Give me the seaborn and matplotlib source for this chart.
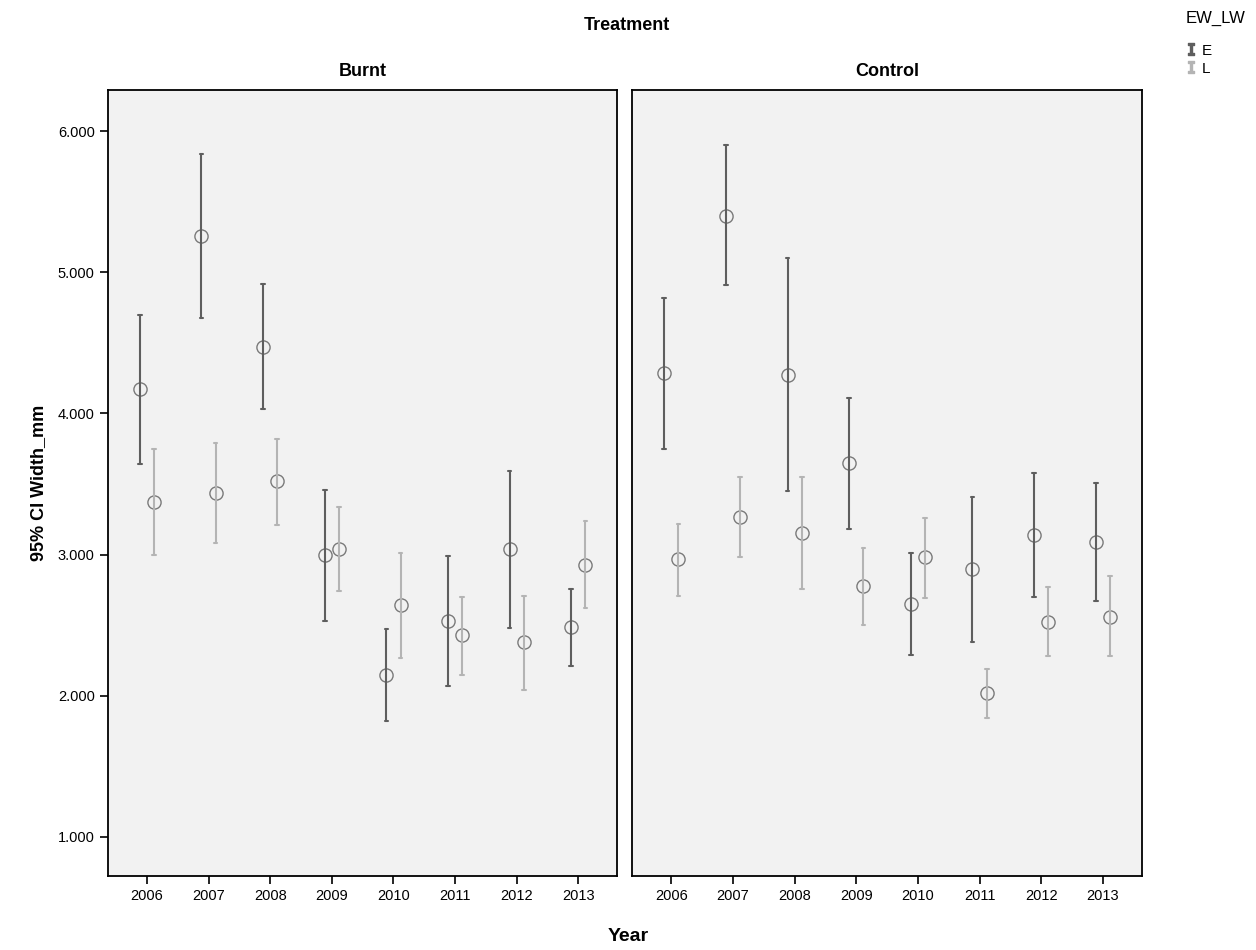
import numpy as np
import pandas as pd
import matplotlib
matplotlib.use("Agg")
import matplotlib.pyplot as plt
from matplotlib.lines import Line2D
from matplotlib.ticker import FormatStrFormatter
import seaborn as sns

years = ['2006', '2007', '2008', '2009', '2010', '2011', '2012', '2013']
treatments = ['Burnt', 'Control']
groups = ['E', 'L']

# mean width and 95% CI bounds
burnt_e_mean = [4.17, 5.26, 4.47, 3.00, 2.15, 2.53, 3.04, 2.49]
burnt_e_low = [3.64, 4.68, 4.03, 2.53, 1.82, 2.07, 2.48, 2.21]
burnt_e_high = [4.70, 5.84, 4.92, 3.46, 2.47, 2.99, 3.59, 2.76]
burnt_l_mean = [3.37, 3.44, 3.52, 3.04, 2.64, 2.43, 2.38, 2.93]
burnt_l_low = [3.00, 3.08, 3.21, 2.74, 2.27, 2.15, 2.04, 2.62]
burnt_l_high = [3.75, 3.79, 3.82, 3.34, 3.01, 2.70, 2.71, 3.24]

control_e_mean = [4.29, 5.40, 4.27, 3.65, 2.65, 2.90, 3.14, 3.09]
control_e_low = [3.75, 4.91, 3.45, 3.18, 2.29, 2.38, 2.70, 2.67]
control_e_high = [4.82, 5.90, 5.10, 4.11, 3.01, 3.41, 3.58, 3.51]
control_l_mean = [2.97, 3.27, 3.15, 2.78, 2.98, 2.02, 2.52, 2.56]
control_l_low = [2.71, 2.98, 2.76, 2.50, 2.69, 1.84, 2.28, 2.28]
control_l_high = [3.22, 3.55, 3.55, 3.05, 3.26, 2.19, 2.77, 2.85]

series = {
    ('Burnt', 'E'): (burnt_e_low, burnt_e_mean, burnt_e_high),
    ('Burnt', 'L'): (burnt_l_low, burnt_l_mean, burnt_l_high),
    ('Control', 'E'): (control_e_low, control_e_mean, control_e_high),
    ('Control', 'L'): (control_l_low, control_l_mean, control_l_high),
}

# long table: lower / mean / upper per cell, so median = mean and 100% interval = CI
rows = []
for (trt, grp), (lo, mid, hi) in series.items():
    for i, yr in enumerate(years):
        for v in (lo[i], mid[i], hi[i]):
            rows.append({'Treatment': trt, 'EW_LW': grp, 'Year': yr, 'Width': v})
df = pd.DataFrame(rows)

sns.set_style("ticks")
plt.rcParams['font.family'] = ['Liberation Sans', 'DejaVu Sans']
plt.rcParams['text.color'] = 'black'
plt.rcParams['axes.labelcolor'] = 'black'

pal = {'E': '#5e5e5e', 'L': '#b4b4b4'}

fig, axes = plt.subplots(1, 2, figsize=(12.56, 9.5), dpi=100, sharey=True)
fig.subplots_adjust(left=0.086, right=0.909, bottom=0.078, top=0.905, wspace=0.03)

for ax, trt in zip(axes, treatments):
    sub = df[df['Treatment'] == trt]
    sns.pointplot(data=sub, x='Year', y='Width', hue='EW_LW', order=years,
                  hue_order=groups, palette=pal, estimator='median',
                  errorbar=('pi', 100), dodge=0.23, linestyle='none',
                  markers='o', capsize=0.06, markerfacecolor='none',
                  markeredgecolor='#7a7a7a', markersize=9.5, markeredgewidth=1.0,
                  err_kws={'linewidth': 1.5}, legend=False, ax=ax)
    ax.set_facecolor('#f2f2f2')
    ax.set_xlim(-0.63, 7.63)
    ax.set_ylim(0.724, 6.29)
    ax.set_yticks([1, 2, 3, 4, 5, 6])
    ax.yaxis.set_major_formatter(FormatStrFormatter('%.3f'))
    ax.set_title(trt, fontsize=13, fontweight='bold', pad=10, color='black')
    ax.set_xlabel('')
    ax.set_ylabel('')
    for s in ax.spines.values():
        s.set_color('black')
        s.set_linewidth(1.3)
    ax.tick_params(axis='both', direction='out', length=6, width=1.2,
                   colors='black', labelsize=10.5)

axes[1].tick_params(axis='y', left=False, labelleft=False)

axes[0].set_ylabel('95% CI Width_mm', fontsize=13, fontweight='bold', labelpad=8)
fig.text(0.5, 0.009, 'Year', ha='center', fontsize=14, fontweight='bold')
fig.text(0.499, 0.968, 'Treatment', ha='center', fontsize=13, fontweight='bold')

# legend: header text plus entries with an "I" error-bar glyph
fig.text(0.968, 0.981, 'EW_LW', ha='center', va='center', fontsize=12)
handles = [Line2D([], [], color=pal[g], marker=r'$\mathtt{I}$', linestyle='none',
                  markersize=8) for g in groups]
fig.legend(handles, groups, loc='upper left', bbox_to_anchor=(0.936, 0.962),
           frameon=False, fontsize=11, handletextpad=0.2, labelspacing=0.25,
           handlelength=1.0, borderpad=0.0)

fig.savefig('out.png', dpi=100)
